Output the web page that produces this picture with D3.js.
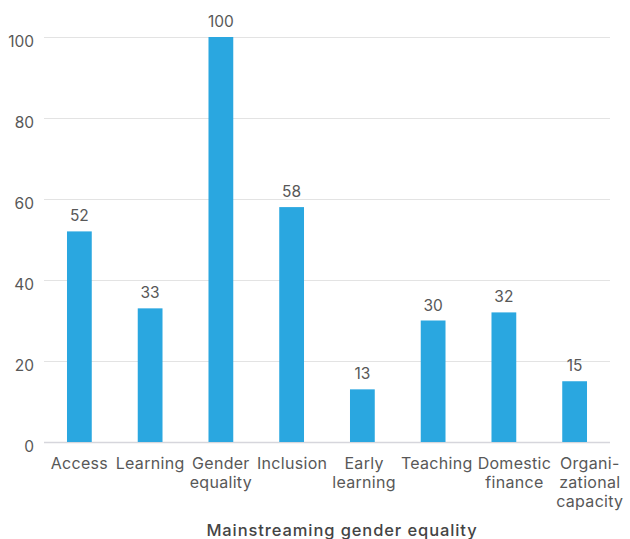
<!DOCTYPE html>
<html>
<head>
<meta charset="utf-8">
<script src="https://cdn.jsdelivr.net/npm/d3@7"></script>
<style>
  html, body { margin: 0; padding: 0; background: #fff; }
  svg { display: block; font-family: Inter, "Open Sans", sans-serif; }
</style>
</head>
<body>
<svg id="chart" width="630" height="539"></svg>
<script>
// Category labels (line breaks mark wrapped lines)
const categories = ["Access", "Learning", "Gender\nequality", "Inclusion", "Early\nlearning", "Teaching", "Domestic\nfinance", "Organi-\nzational\ncapacity"];
const values = [52, 33, 100, 58, 13, 30, 32, 15];
const yTicks = [0, 20, 40, 60, 80, 100];
const axisTitle = "Mainstreaming gender equality";

const svg = d3.select("#chart");
const margin = { left: 44, right: 20, top: 37, bottom: 97 };
const W = 630, H = 539;
const FONT = "Inter, 'Open Sans', sans-serif";
const TEXT = "#585858";
const LABEL_GAP = 5;
const MIN_GAP = 2;

const x = d3.scaleBand()
  .domain(categories)
  .range([margin.left, W - margin.right])
  .paddingInner(0.65)
  .paddingOuter(0.325);

const y = d3.scaleLinear()
  .domain([0, 100])
  .range([H - margin.bottom, margin.top]);

// Horizontal gridlines and y tick labels
const yAxis = svg.append("g")
  .attr("transform", `translate(${margin.left},0)`)
  .call(d3.axisLeft(y).tickValues(yTicks).tickSize(-(W - margin.left - margin.right)).tickPadding(10));
yAxis.select(".domain").remove();
yAxis.selectAll(".tick line")
  .attr("stroke", d => d === 0 ? "#d6d6dc" : "#e3e3e3")
  .attr("stroke-width", d => d === 0 ? 1.5 : 1);
yAxis.selectAll(".tick text")
  .attr("fill", TEXT)
  .attr("font-size", 15.5)
  .attr("font-weight", 400)
  .attr("dy", "0.62em")
  .attr("font-family", FONT);

// Bars
svg.append("g").selectAll("rect")
  .data(categories)
  .join("rect")
  .attr("x", d => x(d))
  .attr("width", x.bandwidth())
  .attr("y", (d, i) => y(values[i]))
  .attr("height", (d, i) => y(0) - y(values[i]))
  .attr("fill", "#2aa7e0");

// Value labels above bars
svg.append("g").selectAll("text")
  .data(categories)
  .join("text")
  .attr("x", d => x(d) + x.bandwidth() / 2)
  .attr("y", (d, i) => y(values[i]) - 10)
  .attr("text-anchor", "middle")
  .attr("font-size", 15.5)
  .attr("font-weight", 400)
  .attr("fill", TEXT)
  .text((d, i) => values[i]);

// Category labels, wrapped over several lines
const xLabels = svg.append("g").selectAll("text")
  .data(categories)
  .join("text")
  .attr("x", d => x(d) + x.bandwidth() / 2)
  .attr("y", y(0) + 27)
  .attr("text-anchor", "middle")
  .attr("font-size", 16)
  .attr("font-weight", 400)
  .attr("letter-spacing", "0.3px")
  .attr("fill", TEXT);
xLabels.selectAll("tspan")
  .data(d => d.split("\n"))
  .join("tspan")
  .attr("x", function () { return this.parentNode.getAttribute("x"); })
  .attr("dy", (d, i) => i === 0 ? 0 : 19)
  .text(d => d);

// Spread crowded labels: push right to keep a gap, then pull back inside the
// right edge, letting the gap shrink before moving earlier labels
const boxes = xLabels.nodes().map(n => { const b = n.getBBox(); return { left: b.x, width: b.width, shift: 0 }; });
let prevRight = -Infinity;
boxes.forEach(b => {
  b.shift = Math.max(0, prevRight + LABEL_GAP - b.left);
  prevRight = b.left + b.shift + b.width;
});
let limit = W - 1;
for (let i = boxes.length - 1; i >= 0; i--) {
  const b = boxes[i];
  if (b.left + b.shift + b.width > limit) b.shift = Math.max(0, limit - b.width - b.left);
  limit = b.left + b.shift - MIN_GAP;
}
xLabels.attr("transform", (d, i) => `translate(${boxes[i].shift},0)`);

// Axis title
svg.append("text")
  .attr("x", 342)
  .attr("y", 536)
  .attr("text-anchor", "middle")
  .attr("font-size", 16.5)
  .attr("font-weight", 500)
  .attr("letter-spacing", "0.9px")
  .attr("fill", "#444")
  .text(axisTitle);
</script>
</body>
</html>
